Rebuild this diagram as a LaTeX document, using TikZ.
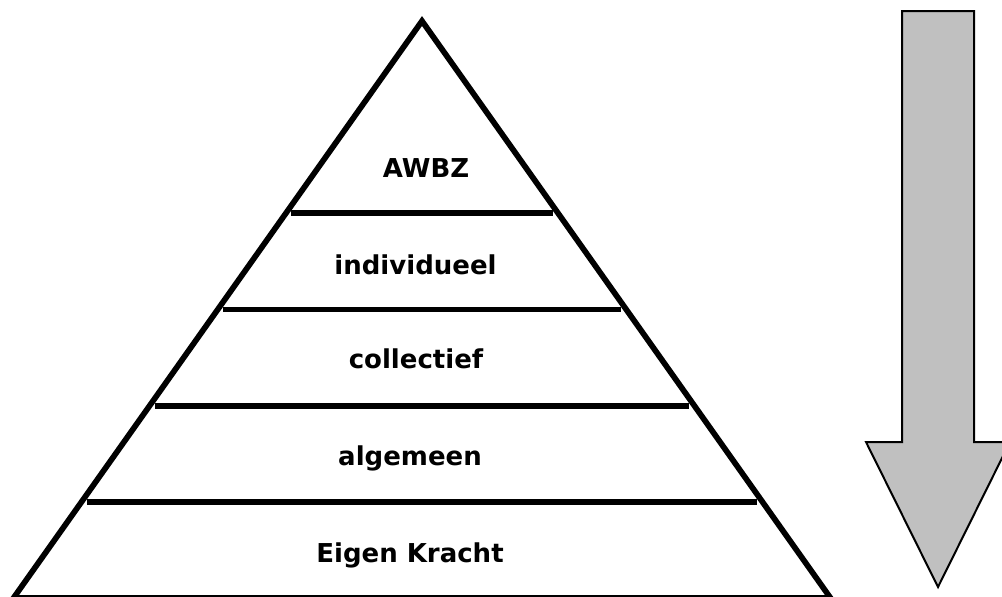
\documentclass[tikz,border=0pt]{standalone}
\usepackage{fontspec}
\setmainfont{DejaVu Sans}
\usepackage{tikz}
\usetikzlibrary{calc}

\definecolor{arrowgray}{RGB}{192,192,192}

\begin{document}
\begin{tikzpicture}
        [
            x=1pt, y=-1pt,
            layer/.style={font=\bfseries\fontsize{26}{30}\selectfont, anchor=base, inner sep=0pt},
            edge/.style={line width=5.7pt, line join=miter},
        ]
        \useasboundingbox (0,0) rectangle (1002,597);
        % pyramid
        \coordinate (top) at (422,21);
        \coordinate (bl) at (13.5,598);
        \coordinate (br) at (830.5,598);
        \draw[edge] (top) -- (br) -- (bl) -- cycle;
        \foreach \k in {2,...,5}
            \draw[edge] ($(top)!\k/6!(bl) + (5,0)$) -- ($(top)!\k/6!(br) - (5,0)$);
        \node[layer] (awbz) at (426,177) {AWBZ};
        \node[layer] (individueel) at (415.5,274) {individueel};
        \node[layer] (collectief) at (416,368) {collectief};
        \node[layer] (algemeen) at (410,465) {algemeen};
        \node[layer] (eigen) at (410,562) {Eigen Kracht};
        % arrow
        \draw[fill=arrowgray, line width=2pt, line join=miter]
            (902,11) -- (974,11) -- (974,442) -- (1010,442)
            -- (938,587) -- (866,442) -- (902,442) -- cycle;
    \end{tikzpicture}
\end{document}
